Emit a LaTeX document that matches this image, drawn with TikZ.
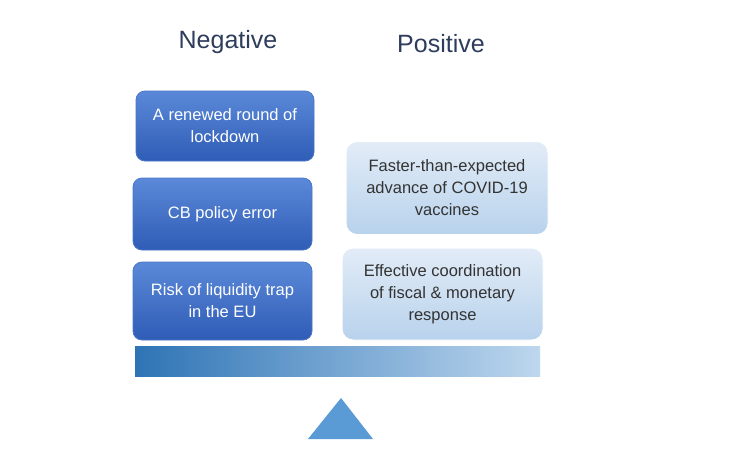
\documentclass[tikz,border=0pt]{standalone}
\usepackage{fontspec}
\setmainfont{Liberation Sans}
\usetikzlibrary{shapes.geometric}
\definecolor{negtop}{HTML}{5B89D8}
\definecolor{negbot}{HTML}{2F5CB6}
\definecolor{negedge}{HTML}{4A76C8}
\definecolor{postop}{HTML}{E2ECF7}
\definecolor{posbot}{HTML}{B8D2EC}
\definecolor{titlecol}{HTML}{2E3D5C}
\definecolor{textdark}{HTML}{333333}
\definecolor{barleft}{HTML}{2E74B5}
\definecolor{barmid}{HTML}{92B8DF}
\definecolor{barright}{HTML}{BDD7EE}
\definecolor{trifill}{HTML}{5B9BD5}
\tikzset{
  negbox/.style={rounded corners=9pt, top color=negtop, bottom color=negbot, draw=negedge, line width=0.8pt,
    text=white, align=center, font=\fontsize{16.5}{22}\selectfont, inner sep=0pt},
  posbox/.style={rounded corners=11pt, top color=postop, bottom color=posbot, draw=white, line width=1pt,
    text=textdark, align=center, font=\fontsize{16.5}{22}\selectfont, inner sep=0pt},
  titletext/.style={text=titlecol, font=\fontsize{25}{29}\selectfont, inner sep=0pt}
}
\begin{document}
\begin{tikzpicture}[x=1pt,y=-1pt]
\useasboundingbox[fill=white] (0,0) rectangle (730,467);
\node[titletext] (neg) at (228,42) {Negative};
\node[titletext] (pos) at (441,44) {Positive};
\node[negbox, minimum width=178pt, minimum height=70pt] (n1) at (225,126) {A renewed round of\\lockdown};
\node[negbox, minimum width=179pt, minimum height=72pt] (n2) at (222.5,214) {CB policy error};
\node[negbox, minimum width=179pt, minimum height=78pt] (n3) at (222.5,301) {Risk of liquidity trap\\in the EU};
\node[posbox, minimum width=202pt, minimum height=93pt] (p1) at (447,188) {Faster-than-expected\\advance of COVID-19\\vaccines};
\node[posbox, minimum width=201pt, minimum height=92pt] (p2) at (442.5,294) {Effective coordination\\of fiscal \& monetary\\response};
\node[rectangle, minimum width=405pt, minimum height=30pt, inner sep=0pt, left color=barleft, middle color=barmid, right color=barright] (bar) at (337.5,361) {};
\coordinate (ta) at (341,398);
\coordinate (tl) at (308,439);
\coordinate (tr) at (373,439);
\fill[trifill] (ta) -- (tl) -- (tr) -- cycle;
\end{tikzpicture}
\end{document}
